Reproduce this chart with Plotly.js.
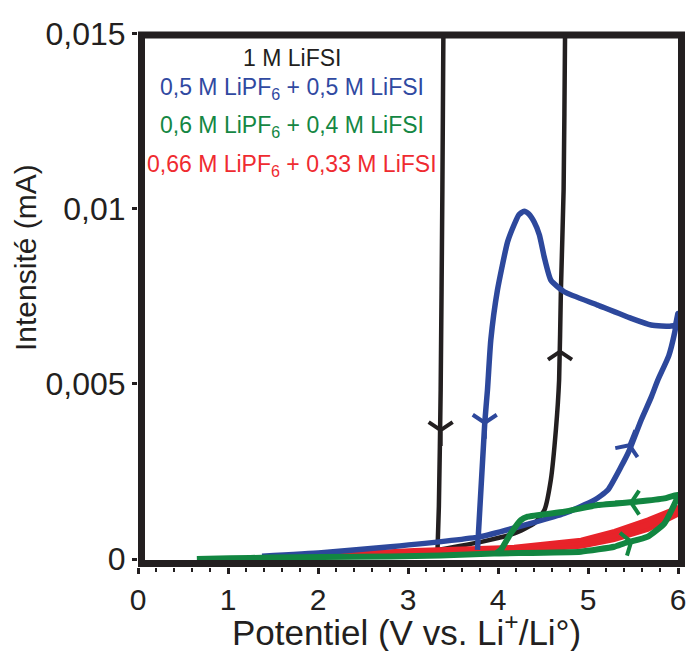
<!DOCTYPE html>
<html>
<head>
<meta charset="utf-8">
<script src="https://cdn.plot.ly/plotly-3.0.1.min.js"></script>
<style>html,body{margin:0;padding:0;background:#fff;}#chart{width:688px;height:651px;}</style>
</head>
<body>
<div id="chart"></div>
<script>
// ---- data (potential V, current mA) ----
var blackFwdX = [3.328, 3.815, 4.181, 4.404, 4.516, 4.587, 4.643, 4.679, 4.699, 4.729, 4.745, 4.747];
var blackFwdY = [0.00026, 0.00049, 0.00073, 0.00102, 0.0014, 0.00226, 0.00368, 0.00511, 0.00768, 0.01054, 0.01496, 0.0156];
var blackRevX = [3.395, 3.393, 3.382, 3.363, 3.343, 3.328];
var blackRevY = [0.0156, 0.01496, 0.01054, 0.00483, 0.0015, 0.00026];

var blueX = [1.378, 2.038, 2.807, 3.808, 4.366, 4.736, 5.070, 5.220, 5.368, 5.460, 5.591, 5.704, 5.776, 5.897, 5.961, 5.999,
             5.968, 5.925, 5.701, 5.481, 5.108, 4.736, 4.588, 4.513, 4.460, 4.402, 4.343, 4.291, 4.232, 4.180, 4.106, 3.994, 3.920, 3.883, 3.853, 3.772];
var blueY = [0.00008, 0.00018, 0.00035, 0.00064, 0.00102, 0.0013, 0.00168, 0.00197, 0.00264, 0.00311, 0.00397, 0.00463, 0.00511, 0.0058, 0.00644, 0.00701,
             0.00668, 0.00665, 0.00668, 0.00687, 0.00725, 0.00763, 0.00796, 0.00863, 0.00925, 0.00962, 0.00985, 0.00993, 0.00983, 0.00955, 0.00905, 0.00768, 0.00625, 0.00483, 0.00389, 0.00026];

var greenX = [0.654, 1.022, 1.469, 2.038, 2.807, 3.358, 3.956, 4.922, 5.293, 5.405, 5.665, 5.850, 6.0,
              5.850, 5.554, 5.108, 4.736, 4.329, 4.254, 4.142, 4.032, 3.976];
var greenY = [0, 0.00002, 0.00004, 0.00006, 0.00007, 0.0001, 0.00016, 0.00021, 0.00035, 0.00045, 0.00064, 0.00102, 0.00183,
              0.00173, 0.00164, 0.00154, 0.00135, 0.00121, 0.00111, 0.00073, 0.00026, 0.00016];

var redX = [1.022, 2.038, 3.066, 4.180, 4.922, 5.293, 5.665, 6.0, 6.0, 5.665, 5.293, 4.922, 4.180, 3.066, 2.038, 1.225];
var redY = [0.00001, 0.00004, 0.00008, 0.00021, 0.00035, 0.00054, 0.00083, 0.00126, 0.00148, 0.00113, 0.00080, 0.00055, 0.00035, 0.00026, 0.00012, 0.00004];

// direction arrows on the curves
var blackArrowX = [3.363, 4.689];
var blackArrowY = [0.00368, 0.00592];
var blackArrowSym = ['y-down-open', 'y-up-open'];
var blueArrowX = [3.853, 5.460];
var blueArrowY = [0.00389, 0.00325];
var blueArrowSym = ['y-down-open', 'y-up-open'];
var blueArrowAngle = [0, 22];
var greenArrowX = [5.479, 5.479];
var greenArrowY = [0.00161, 0.00049];
var greenArrowSym = ['y-left-open', 'y-right-open'];
var greenArrowAngle = [0, -17];

// legend texts
var seriesNames = ['1 M LiFSI', '0,5 M LiPF<sub>6</sub> + 0,5 M LiFSI', '0,6 M LiPF<sub>6</sub> + 0,4 M LiFSI', '0,66 M LiPF<sub>6</sub> + 0,33 M LiFSI'];
var seriesColors = ['#231f20', '#2d489c', '#128641', '#e8232a'];
var textColors = ['#231f20', '#3049a1', '#148743', '#ef2b30'];

// axes
var xTickVals = [0, 1, 2, 3, 4, 5, 6];
var xTickText = ['0', '1', '2', '3', '4', '5', '6'];
var yTickVals = [0, 0.005, 0.01, 0.015];
var yTickText = ['0', '0,005', '0,01', '0,015'];

var FONT = 'Liberation Sans, Arial, Helvetica, sans-serif';
var K = '#231f20';

var traces = [
  {x: blackFwdX, y: blackFwdY, mode: 'lines', line: {color: seriesColors[0], width: 4.5, shape: 'spline', smoothing: 0.5}, hoverinfo: 'skip'},
  {x: blackRevX, y: blackRevY, mode: 'lines', line: {color: seriesColors[0], width: 4.5, shape: 'spline', smoothing: 0.5}, hoverinfo: 'skip'},
  {x: redX, y: redY, mode: 'lines', fill: 'toself', fillcolor: seriesColors[3], line: {color: seriesColors[3], width: 4}, hoverinfo: 'skip'},
  {x: blueX, y: blueY, mode: 'lines', line: {color: seriesColors[1], width: 5.5, shape: 'spline', smoothing: 0.5}, hoverinfo: 'skip'},
  {x: greenX, y: greenY, mode: 'lines', line: {color: seriesColors[2], width: 6, shape: 'spline', smoothing: 0.4}, hoverinfo: 'skip'},
  {x: blackArrowX, y: blackArrowY, mode: 'markers', marker: {symbol: blackArrowSym, size: 20, color: seriesColors[0], line: {color: seriesColors[0], width: 4}}, hoverinfo: 'skip'},
  {x: blueArrowX, y: blueArrowY, mode: 'markers', marker: {symbol: blueArrowSym, angle: blueArrowAngle, size: 20, color: seriesColors[1], line: {color: seriesColors[1], width: 4}}, hoverinfo: 'skip'},
  {x: greenArrowX, y: greenArrowY, mode: 'markers', marker: {symbol: greenArrowSym, angle: greenArrowAngle, size: 20, color: seriesColors[2], line: {color: seriesColors[2], width: 4}}, hoverinfo: 'skip'}
];

var legendY = [0.9514, 0.8953, 0.8237, 0.7514];
var annotations = seriesNames.map(function (t, i) {
  return {xref: 'paper', yref: 'paper', x: 0.2852, y: legendY[i], xanchor: 'center', yanchor: 'middle',
          text: t, showarrow: false, font: {family: FONT, size: 23, color: textColors[i]}};
});
annotations.push({xref: 'paper', yref: 'paper', x: 0.4972, y: -0.118, xanchor: 'center', yanchor: 'middle',
  text: 'Potentiel (V vs. Li<sup>+</sup>/Li°)', showarrow: false, font: {family: FONT, size: 35, color: K}});
annotations.push({xref: 'paper', yref: 'paper', x: -0.2074, y: 0.5776, xanchor: 'center', yanchor: 'middle', textangle: -90,
  text: 'Intensité (mA)', showarrow: false, font: {family: FONT, size: 30, color: K}});

var layout = {
  width: 688, height: 651,
  margin: {l: 138, r: 10, t: 32, b: 84},
  paper_bgcolor: '#fff', plot_bgcolor: '#fff',
  showlegend: false,
  font: {family: FONT, color: K},
  xaxis: {
    range: [0, 6], showgrid: false, zeroline: false, showline: false,
    tickmode: 'array', tickvals: xTickVals, ticktext: xTickText,
    ticks: 'outside', ticklen: 6, tickwidth: 3, tickcolor: K,
    tickfont: {family: FONT, size: 30, color: K},
    minor: {dtick: 0.2, tick0: 0, ticks: 'outside', ticklen: 3.5, tickwidth: 2.5, tickcolor: K, showgrid: false}
  },
  yaxis: {
    range: [-0.000228, 0.015046], showgrid: false, zeroline: false, showline: false,
    tickmode: 'array', tickvals: yTickVals, ticktext: yTickText,
    ticks: 'outside', ticklen: 5, tickwidth: 3, tickcolor: K,
    tickfont: {family: FONT, size: 32, color: K}
  },
  shapes: [
    {type: 'rect', xref: 'paper', yref: 'paper', x0: 0.00648, x1: 1.00648, y0: 0.00654, y1: 0.9944,
     line: {color: K, width: 7}, fillcolor: 'rgba(0,0,0,0)', layer: 'above'}
  ],
  annotations: annotations
};

Plotly.newPlot('chart', traces, layout, {staticPlot: true, displayModeBar: false});
</script>
</body>
</html>
